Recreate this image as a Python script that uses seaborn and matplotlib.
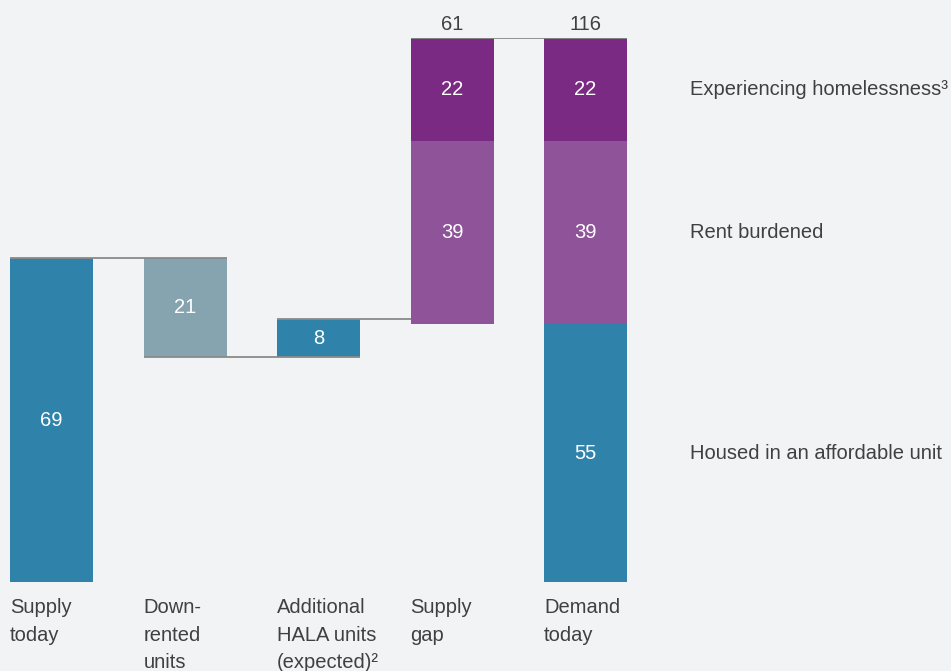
import matplotlib
matplotlib.use("Agg")
import matplotlib.pyplot as plt
import seaborn as sns
import pandas as pd

# ---- data ----
categories = ["Supply\ntoday", "Down-\nrented\nunits", "Additional\nHALA units\n(expected)\u00b2",
              "Supply\ngap", "Demand\ntoday"]
supply_today = 69
down_rented = 21
hala_units = 8
gap_rent_burdened = 39
gap_homeless = 22
demand_housed = 55
demand_rent_burdened = 39
demand_homeless = 22
segment_labels = ["Experiencing homelessness\u00b3", "Rent burdened", "Housed in an affordable unit"]

# ---- derived geometry ----
down_bottom = supply_today - down_rented
hala_bottom = down_bottom
hala_top = hala_bottom + hala_units
demand_total = demand_housed + demand_rent_burdened + demand_homeless
gap_total = gap_rent_burdened + gap_homeless
gap_bottom = demand_total - gap_total

BG = "#f2f3f5"
BLUE = "#2f83ab"
GREY = "#86a3b0"
LPURPLE = "#8f5399"
DPURPLE = "#7a2a82"
TXT = "#404040"
LINE = "#8a8a8a"

sns.set_theme(style="white")
plt.rcParams["font.family"] = ["Liberation Sans", "DejaVu Sans"]

fig = plt.figure(figsize=(9.51, 6.71), dpi=100, facecolor=BG)
W, H = 951, 671
unit_px = 133.5
bw = 83 / unit_px
x_left_px = 10
ax = fig.add_axes([x_left_px / W, 89 / H, (4 + bw) * unit_px / W, 544 / H])
ax.set_facecolor(BG)

layers = [
    (BLUE, [categories[0], categories[2], categories[4]],
     [supply_today, hala_units, demand_housed], [0, hala_bottom, 0]),
    (GREY, [categories[1]], [down_rented], [down_bottom]),
    (LPURPLE, [categories[3], categories[4]],
     [gap_rent_burdened, demand_rent_burdened], [gap_bottom, demand_housed]),
    (DPURPLE, [categories[3], categories[4]],
     [gap_homeless, demand_homeless],
     [gap_bottom + gap_rent_burdened, demand_housed + demand_rent_burdened]),
]
for color, cats, vals, bots in layers:
    df = pd.DataFrame({"cat": cats, "val": vals})
    sns.barplot(data=df, x="cat", y="val", order=categories, color=color,
                width=bw, bottom=bots, errorbar=None, linewidth=0,
                saturation=1, ax=ax)

half = bw / 2
ax.set_xlim(-half, 4 + half)
ax.set_ylim(0, demand_total)
ax.axis("off")

# connectors
conn = [
    (supply_today, 0 - half, 1 + half),
    (down_bottom, 1 - half, 2 + half),
    (hala_top, 2 - half, 3 - half),
    (demand_total, 3 - half, 4 + half),
]
for y, x0, x1 in conn:
    ax.plot([x0, x1], [y, y], color=LINE, lw=1.3, zorder=5, solid_capstyle="butt")

fs = 14.5
# values inside bars
inside = [
    (0, supply_today / 2, supply_today),
    (1, down_bottom + down_rented / 2, down_rented),
    (2, hala_bottom + hala_units / 2, hala_units),
    (3, gap_bottom + gap_rent_burdened / 2, gap_rent_burdened),
    (3, gap_bottom + gap_rent_burdened + gap_homeless / 2, gap_homeless),
    (4, demand_housed / 2, demand_housed),
    (4, demand_housed + demand_rent_burdened / 2, demand_rent_burdened),
    (4, demand_housed + demand_rent_burdened + demand_homeless / 2, demand_homeless),
]
for x, y, v in inside:
    ax.text(x, y, f"{v}", color="white", ha="center", va="center", fontsize=fs, zorder=6)

# totals above
for x, v in [(3, gap_total), (4, demand_total)]:
    ax.annotate(f"{v}", (x, demand_total), xytext=(0, 14), textcoords="offset pixels",
                ha="center", va="center", fontsize=fs, color=TXT, annotation_clip=False)

# category labels
trans = matplotlib.transforms.blended_transform_factory(ax.transData, ax.transAxes)
for i, c in enumerate(categories):
    ax.text(i - half, -16 / 544, c, transform=trans, ha="left", va="top",
            fontsize=fs, color=TXT, linespacing=1.57)

# right-side segment labels
rx = (690 - x_left_px) / unit_px - half
seg_y = [demand_housed + demand_rent_burdened + demand_homeless / 2,
         demand_housed + demand_rent_burdened / 2,
         demand_housed / 2]
for lab, y in zip(segment_labels, seg_y):
    ax.text(rx, y, lab, ha="left", va="center", fontsize=fs, color=TXT, clip_on=False)

fig.savefig("out.png", dpi=100, facecolor=BG)
